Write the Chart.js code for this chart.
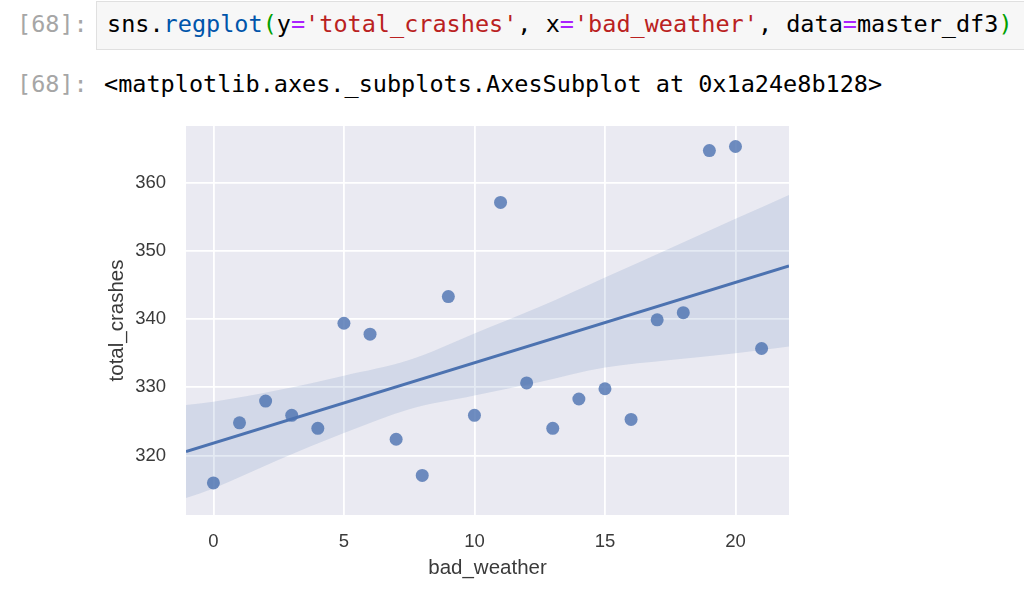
<!DOCTYPE html>
<html>
<head>
<meta charset="utf-8">
<script src="https://cdn.jsdelivr.net/npm/chart.js@4.4.1/dist/chart.umd.min.js"></script>
<style>
  html, body { margin: 0; padding: 0; background: #fff; }
  body { width: 1024px; height: 608px; position: relative; overflow: hidden; }
  .mono { font-family: "DejaVu Sans Mono", monospace; font-size: 23.5px; line-height: 28px; white-space: pre; position: absolute; }
  .prompt { color: #a6a6a6; left: 17px; }
  .codebox { position: absolute; left: 96px; top: 1px; width: 940px; height: 49px; background: #f7f7f7; border: 1px solid #e0e0e0; box-sizing: border-box; }
  .kw { color: #0055aa; }
  .br { color: #00a000; }
  .op { color: #aa22ff; }
  .st { color: #ba2121; }
  #chartWrap { position: absolute; left: 0; top: 110px; width: 1024px; height: 498px; }
</style>
</head>
<body>
<div class="codebox"></div>
<div class="mono prompt" style="top:10px">[68]:</div>
<div class="mono" style="left:107px; top:10px; color:#000">sns.<span class="kw">regplot</span><span class="br">(</span>y<span class="op">=</span><span class="st">'total_crashes'</span>, x<span class="op">=</span><span class="st">'bad_weather'</span>, data<span class="op">=</span>master_df3<span class="br">)</span></div>
<div class="mono prompt" style="top:70px">[68]:</div>
<div class="mono" style="left:104px; top:70px; color:#000">&lt;matplotlib.axes._subplots.AxesSubplot at 0x1a24e8b128&gt;</div>

<div id="chartWrap"><canvas id="regChart"></canvas></div>

<script>
// valores
const badWeather = [0, 1, 2, 3, 4, 5, 6, 7, 8, 9, 10, 11, 12, 13, 14, 15, 16, 17, 18, 19, 20, 21];
const totalCrashes = [316.0, 324.8, 328.0, 325.9, 324.0, 339.4, 337.8, 322.4, 317.1, 343.3, 325.9,
                      357.1, 330.65, 324.0, 328.3, 329.8, 325.3, 339.9, 340.95, 364.7, 365.3, 335.7];

// recta de regresión y banda de confianza (estimadas del gráfico)
const fitX = [-1.05, 22.05];
const fitY = [320.6, 347.8];
const bandX = [-1.05, 0, 2.5, 5, 7.5, 10, 12.5, 15, 17.5, 20, 22.05];
const bandUpper = [327.4, 327.9, 329.6, 331.7, 334.0, 337.9, 341.8, 346.1, 350.4, 354.7, 358.2];
const bandLower = [313.8, 315.2, 319.4, 323.3, 326.8, 328.8, 330.8, 332.9, 334.0, 335.0, 336.0];

const xTicks = [0, 5, 10, 15, 20];
const yTicks = [320, 330, 340, 350, 360];

const seaBlue = '#4c72b0';
const tickColor = '#3a3a3a';

const toPoints = (xs, ys) => xs.map((x, i) => ({x: x, y: ys[i]}));

// fondo gris del área del gráfico
const axesBackground = {
    id: 'axesBackground',
    beforeDraw(chart) {
        const {ctx, chartArea} = chart;
        ctx.save();
        ctx.fillStyle = '#eaeaf2';
        ctx.fillRect(chartArea.left, chartArea.top, chartArea.right - chartArea.left, chartArea.bottom - chartArea.top);
        ctx.restore();
    }
};

new Chart(document.getElementById('regChart'), {
    type: 'scatter',
    data: {
        datasets: [
            {
                label: 'fit',
                data: toPoints(fitX, fitY),
                showLine: true,
                borderColor: seaBlue,
                borderWidth: 3,
                pointRadius: 0,
                order: 0
            },
            {
                label: 'ci upper',
                data: toPoints(bandX, bandUpper),
                showLine: true,
                borderColor: 'transparent',
                backgroundColor: 'rgba(76, 114, 176, 0.15)',
                fill: '+1',
                cubicInterpolationMode: 'monotone',
                pointRadius: 0,
                order: 1
            },
            {
                label: 'ci lower',
                data: toPoints(bandX, bandLower),
                showLine: true,
                borderColor: 'transparent',
                cubicInterpolationMode: 'monotone',
                pointRadius: 0,
                order: 2
            },
            {
                label: 'total_crashes',
                data: toPoints(badWeather, totalCrashes),
                backgroundColor: 'rgba(76, 114, 176, 0.8)',
                borderWidth: 0,
                pointRadius: 6.5,
                order: 3
            }
        ]
    },
    options: {
        responsive: true,
        maintainAspectRatio: false,
        animation: false,
        layout: {
            padding: {left: 104.7, top: 16, right: 235, bottom: 27.7}
        },
        plugins: {
            legend: {display: false},
            tooltip: {enabled: false}
        },
        scales: {
            x: {
                type: 'linear',
                min: -1.05,
                max: 22.05,
                afterBuildTicks: (axis) => { axis.ticks = xTicks.map(v => ({value: v})); },
                afterFit: (axis) => { axis.height = 65.3; axis.paddingLeft = 0; axis.paddingRight = 0; },
                grid: {color: '#ffffff', lineWidth: 1.8, drawTicks: false},
                border: {display: false},
                ticks: {
                    color: tickColor,
                    padding: 15.5,
                    font: {family: 'Liberation Sans', size: 18.5}
                },
                title: {
                    display: true,
                    text: 'bad_weather',
                    color: tickColor,
                    padding: 0,
                    font: {family: 'Liberation Sans', size: 20.5}
                }
            },
            y: {
                type: 'linear',
                min: 311.3,
                max: 368.3,
                afterBuildTicks: (axis) => { axis.ticks = yTicks.map(v => ({value: v})); },
                afterFit: (axis) => { axis.width = 81.3; axis.paddingTop = 0; axis.paddingBottom = 0; },
                grid: {color: '#ffffff', lineWidth: 1.8, drawTicks: false},
                border: {display: false},
                ticks: {
                    color: tickColor,
                    padding: 20,
                    font: {family: 'Liberation Sans', size: 18.5}
                },
                title: {
                    display: true,
                    text: 'total_crashes',
                    color: tickColor,
                    padding: 0,
                    font: {family: 'Liberation Sans', size: 20.5}
                }
            }
        }
    },
    plugins: [axesBackground]
});
</script>
</body>
</html>
